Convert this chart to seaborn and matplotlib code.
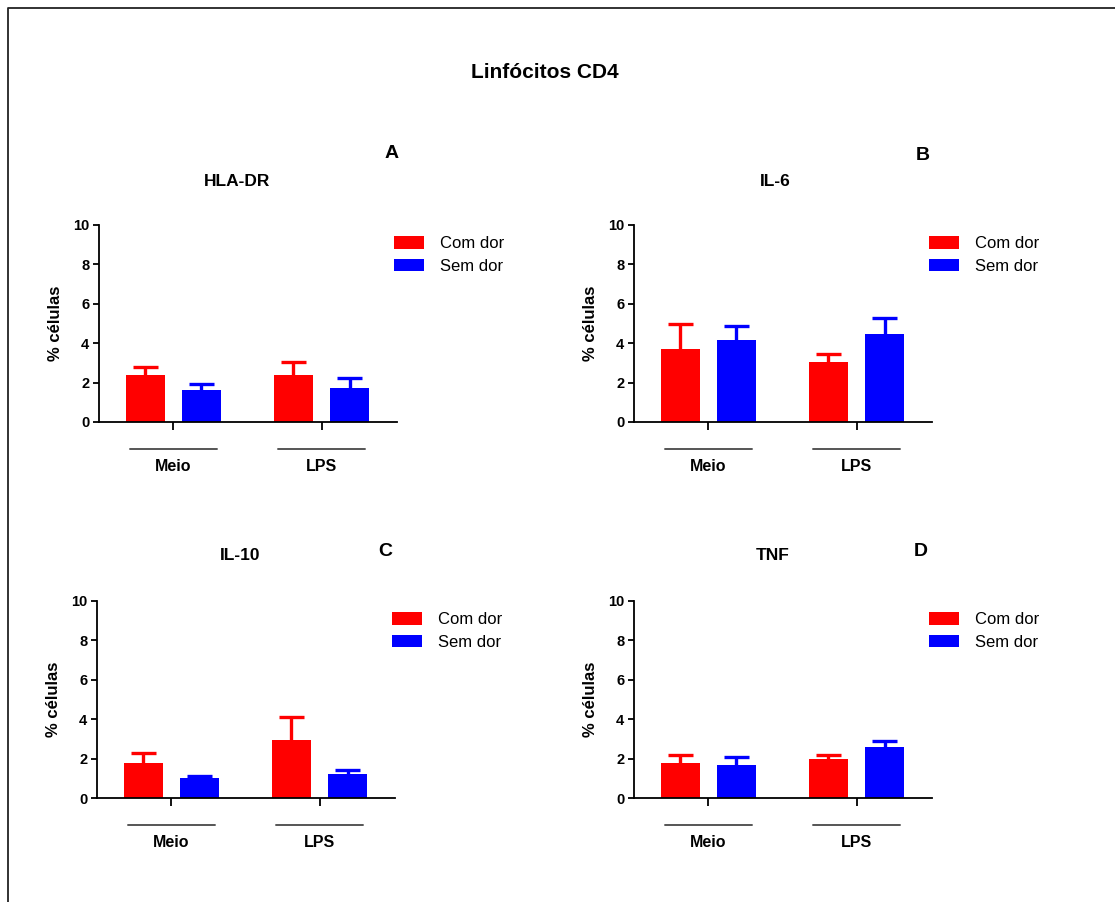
import matplotlib
matplotlib.use("Agg")
import matplotlib.pyplot as plt
import matplotlib.transforms as mtransforms
from matplotlib.lines import Line2D
import pandas as pd
import seaborn as sns

# ---- data -------------------------------------------------------------
grupos = ["Meio", "LPS"]
condicoes = ["Com dor", "Sem dor"]
cores = {"Com dor": "#FF0000", "Sem dor": "#0000FF"}

paineis = ["HLA-DR", "IL-6", "IL-10", "TNF"]
letras = ["A", "B", "C", "D"]

# mean % of cells for (Meio, LPS)
hla_com = [2.37, 2.39]
hla_sem = [1.61, 1.73]
il6_com = [3.72, 3.06]
il6_sem = [4.15, 4.48]
il10_com = [1.80, 2.93]
il10_sem = [1.00, 1.23]
tnf_com = [1.77, 1.97]
tnf_sem = [1.67, 2.58]

# standard error of the mean (upper bar only)
hla_com_ep = [0.42, 0.64]
hla_sem_ep = [0.30, 0.52]
il6_com_ep = [1.27, 0.39]
il6_sem_ep = [0.74, 0.78]
il10_com_ep = [0.48, 1.17]
il10_sem_ep = [0.13, 0.19]
tnf_com_ep = [0.42, 0.22]
tnf_sem_ep = [0.40, 0.32]

medias = [(hla_com, hla_sem), (il6_com, il6_sem), (il10_com, il10_sem), (tnf_com, tnf_sem)]
erros = [(hla_com_ep, hla_sem_ep), (il6_com_ep, il6_sem_ep),
         (il10_com_ep, il10_sem_ep), (tnf_com_ep, tnf_sem_ep)]

# ---- style ------------------------------------------------------------
sns.set_style("ticks")
plt.rcParams["font.family"] = ["Liberation Sans", "DejaVu Sans"]
plt.rcParams.update({
    "axes.linewidth": 1.3,
    "axes.edgecolor": "black",
    "axes.labelcolor": "black",
    "text.color": "black",
    "xtick.color": "black",
    "ytick.color": "black",
})

W, H = 1115, 902
fig = plt.figure(figsize=(W / 100, H / 100), dpi=100)


def px_axes(x0, y_top, x1, y_bot):
    return fig.add_axes([x0 / W, 1 - y_bot / H, (x1 - x0) / W, (y_bot - y_top) / H])


posicoes = [(99, 225, 397, 422), (634, 225, 932, 422),
            (97, 601, 395, 798), (634, 601, 932, 798)]
titulos_xy = [(237, 181), (775, 181), (240, 556), (773, 556)]
letras_xy = [(392, 153), (923, 155), (385, 551), (921, 551)]

for i, nome in enumerate(paineis):
    ax = px_axes(*posicoes[i])
    com, sem = medias[i]
    df = pd.DataFrame({
        "grupo": grupos * 2,
        "condicao": [condicoes[0]] * 2 + [condicoes[1]] * 2,
        "valor": list(com) + list(sem),
    })
    sns.barplot(data=df, x="grupo", y="valor", hue="condicao", order=grupos,
                hue_order=condicoes, palette=cores, width=0.757, gap=0.30,
                errorbar=None, saturation=1, linewidth=0, ax=ax)

    # one-sided error bars: stem from the bar top up to a cap
    for cont, cond, ep in zip(ax.containers, condicoes, erros[i]):
        for barra, e in zip(cont, ep):
            xc = barra.get_x() + barra.get_width() / 2
            hw = barra.get_width() * 0.32
            topo = barra.get_height()
            ax.vlines(xc, topo, topo + e, color=cores[cond], lw=2.4, zorder=1)
            ax.hlines(topo + e, xc - hw, xc + hw, color=cores[cond], lw=2.4, zorder=1)

    ax.set_ylim(0, 10)
    ax.set_yticks(range(0, 11, 2))
    ax.set_xlim(-0.503, 1.51)
    ax.set_xticks([0, 1])
    ax.tick_params(axis="x", labelbottom=False, length=6, width=1.3, direction="out")
    ax.tick_params(axis="y", length=4, width=1.3, labelsize=10.5, pad=3)
    for lab in ax.get_yticklabels():
        lab.set_fontweight("bold")
    ax.set_xlabel("")
    ax.set_ylabel("% células", fontsize=12, fontweight="bold", labelpad=7)
    sns.despine(ax=ax)

    # group brackets with labels under the axis
    trans = mtransforms.blended_transform_factory(ax.transData, ax.transAxes)
    for k, g in enumerate(grupos):
        ax.add_line(Line2D([k - 0.295, k + 0.295], [-0.137, -0.137], transform=trans,
                           color="#555555", lw=1.4, clip_on=False))
        ax.text(k, -0.228, g, transform=trans, ha="center", va="center",
                fontsize=11.5, fontweight="bold")

    handles, labels = ax.get_legend_handles_labels()
    ax.legend(handles, labels, loc="upper left", bbox_to_anchor=(0.99, 0.945),
              frameon=False, fontsize=12, handlelength=1.8, handleheight=0.8,
              handletextpad=0.95, labelspacing=0.45, borderpad=0, borderaxespad=0)

    fig.text(titulos_xy[i][0] / W, 1 - titulos_xy[i][1] / H, nome, ha="center",
             va="center", fontsize=12.5, fontweight="bold")
    fig.text(letras_xy[i][0] / W, 1 - letras_xy[i][1] / H, letras[i], ha="center",
             va="center", fontsize=14, fontweight="bold")

fig.text(545 / W, 1 - 72 / H, "Linfócitos CD4", ha="center", va="center",
         fontsize=15, fontweight="bold")

# outer frame (left and top edges)
fig.add_artist(Line2D([8 / W, 8 / W, 1.0], [0.0, 1 - 8 / H, 1 - 8 / H],
                      transform=fig.transFigure, color="#222222", lw=1.3))

fig.savefig("out.png", dpi=100)
